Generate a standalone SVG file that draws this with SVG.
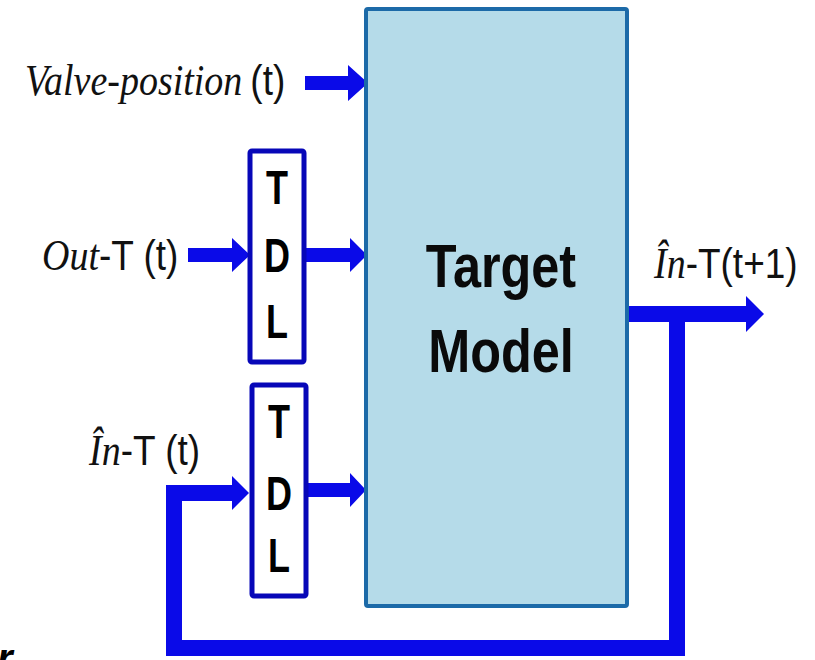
<svg xmlns="http://www.w3.org/2000/svg" width="815" height="660" viewBox="0 0 815 660">
<style>
.arrow{fill:#0a0ae8;stroke:none}
.loop{fill:none;stroke:#0a0ae8;stroke-width:16;stroke-linejoin:miter}
.tdl{fill:#ffffff;stroke:#0707b8;stroke-width:5}
.tdlt{font-family:"Liberation Sans",Arial,sans-serif;font-weight:bold;font-size:48px;fill:#000}
.it{font-family:"Liberation Serif","Times New Roman",serif;font-style:italic;font-size:38px;fill:#111}
.up{font-family:"Liberation Sans",Arial,sans-serif;font-size:37px;fill:#111}
.big{font-family:"Liberation Sans",Arial,sans-serif;font-weight:bold;font-size:56px;fill:#0a0a0a}
</style>
<rect width="815" height="660" fill="#ffffff"/>
<g id="connectors">
<path class="arrow" d="M305,76 H348 V65 L368,83 L348,101 V90 H305 Z"/>
<path class="arrow" d="M188,248 H232 V238 L250,255 L232,272 V262 H188 Z"/>
<path class="arrow" d="M305,248 H350 V238 L367,255 L350,272 V262 H305 Z"/>
<path class="arrow" d="M306,483 H350 V473 L366,490 L350,507 V497 H306 Z"/>
<path class="arrow" d="M628,306 H746 V296 L764,314 L746,332 V322 H628 Z"/>
<path class="loop" d="M677,314 V648 H174 V493 H234"/>
<path class="arrow" d="M232,476 L249,493 L232,510 Z"/>
</g>
<g id="target-model">
<rect x="366" y="9" width="261" height="597" rx="2" fill="#b5dbe9" stroke="#1c6aa8" stroke-width="4"/>
<text class="big" x="501" y="287" text-anchor="middle" transform="translate(501,0) scale(0.9,1.1) translate(-501,0)" dy="-26">Target</text>
<text class="big" x="501" y="372" text-anchor="middle" transform="translate(501,0) scale(0.9,1.1) translate(-501,0)" dy="-34">Model</text>
</g>
<g id="tdl-1">
<rect x="250" y="151" width="54" height="211" rx="2" class="tdl"/>
<text class="tdlt" x="277" y="204" text-anchor="middle" transform="translate(277,0) scale(0.75,1) translate(-277,0)">T</text>
<text class="tdlt" x="277" y="272" text-anchor="middle" transform="translate(277,0) scale(0.75,1) translate(-277,0)">D</text>
<text class="tdlt" x="277" y="338" text-anchor="middle" transform="translate(277,0) scale(0.75,1) translate(-277,0)">L</text>
</g>
<g id="tdl-2">
<rect x="252" y="385" width="54" height="211" rx="2" class="tdl"/>
<text class="tdlt" x="279" y="438" text-anchor="middle" transform="translate(279,0) scale(0.75,1) translate(-279,0)">T</text>
<text class="tdlt" x="279" y="510" text-anchor="middle" transform="translate(279,0) scale(0.75,1) translate(-279,0)">D</text>
<text class="tdlt" x="279" y="572" text-anchor="middle" transform="translate(279,0) scale(0.75,1) translate(-279,0)">L</text>
</g>
<g id="label-valve" transform="translate(0,95) scale(1,1.15) translate(0,-95)">
<text x="25" y="95"><tspan class="it">Valve-position</tspan><tspan class="up" dx="8">(t)</tspan></text>
</g>
<g id="label-out" transform="translate(0,270) scale(1,1.15) translate(0,-270)">
<text x="42" y="270"><tspan class="it">Out</tspan><tspan class="up">-T (t)</tspan></text>
</g>
<g id="label-in" transform="translate(0,465) scale(1,1.15) translate(0,-465)">
<text x="89" y="465"><tspan class="it">În</tspan><tspan class="up">-T (t)</tspan></text>
</g>
<g id="label-in-next" transform="translate(0,278) scale(1,1.15) translate(0,-278)">
<text x="654" y="278"><tspan class="it">În</tspan><tspan class="up">-T(t+1)</tspan></text>
</g>
<text x="-3" y="672" font-family="Liberation Sans, Arial, sans-serif" font-weight="bold" font-style="italic" font-size="40" fill="#000">r</text>
</svg>
